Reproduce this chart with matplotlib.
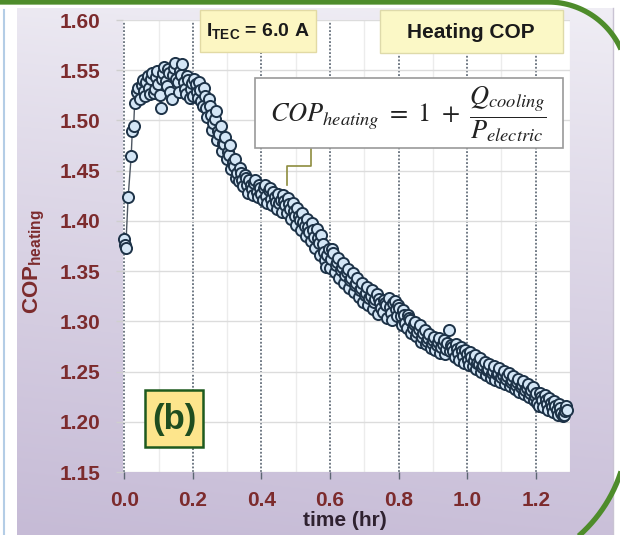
import numpy as np
import matplotlib
matplotlib.use("Agg")
import matplotlib.pyplot as plt
from matplotlib import font_manager as fm
from matplotlib.patches import Rectangle, PathPatch
from matplotlib.path import Path

# ---------------- data ----------------
time_hr = [
    0.000, 0.002, 0.004, 0.011, 0.020, 0.023, 0.027, 0.030, 0.036, 0.040, 0.045, 0.050,
    0.057, 0.064, 0.071, 0.078, 0.085, 0.092, 0.099, 0.106, 0.113, 0.120,
    0.127, 0.134, 0.141, 0.148, 0.155, 0.162, 0.169, 0.176, 0.183, 0.190,
    0.197, 0.204, 0.211, 0.218, 0.225, 0.232, 0.239, 0.246, 0.253, 0.260,
    0.267, 0.274, 0.281, 0.288, 0.295, 0.302, 0.309, 0.316, 0.323, 0.330,
    0.337, 0.344, 0.351, 0.358, 0.365, 0.372, 0.379, 0.386, 0.393, 0.400,
    0.407, 0.414, 0.421, 0.428, 0.435, 0.442, 0.449, 0.456, 0.463, 0.470,
    0.477, 0.484, 0.491, 0.498, 0.505, 0.512, 0.519, 0.526, 0.533, 0.540,
    0.547, 0.554, 0.561, 0.568, 0.575, 0.582, 0.589, 0.596, 0.603, 0.610,
    0.617, 0.624, 0.631, 0.638, 0.645, 0.652, 0.659, 0.666, 0.673, 0.680,
    0.687, 0.694, 0.701, 0.708, 0.715, 0.722, 0.729, 0.736, 0.743, 0.750,
    0.757, 0.764, 0.771, 0.778, 0.785, 0.792, 0.799, 0.806, 0.813, 0.820,
    0.827, 0.834, 0.841, 0.848, 0.855, 0.862, 0.869, 0.876, 0.883, 0.890,
    0.897, 0.904, 0.911, 0.918, 0.925, 0.932, 0.939, 0.946, 0.953, 0.960,
    0.967, 0.974, 0.981, 0.988, 0.995, 1.002, 1.009, 1.016, 1.023, 1.030,
    1.037, 1.044, 1.051, 1.058, 1.065, 1.072, 1.079, 1.086, 1.093, 1.100,
    1.107, 1.114, 1.121, 1.128, 1.135, 1.142, 1.149, 1.156, 1.163, 1.170,
    1.177, 1.184, 1.191, 1.198, 1.205, 1.212, 1.219, 1.226, 1.233, 1.240,
    1.247, 1.254, 1.261, 1.268, 1.275, 1.282, 1.289, 1.292,
    # interleaved samples
    0.0535, 0.0605, 0.0675, 0.0745, 0.0815, 0.0885, 0.0955, 0.1025, 0.1095, 0.1165,
    0.1235, 0.1305, 0.1375, 0.1445, 0.1515, 0.1585, 0.1655, 0.1725, 0.1795, 0.1865,
    0.1935, 0.2005, 0.2075, 0.2145, 0.2215, 0.2285, 0.2355, 0.2425, 0.2495, 0.2565,
    0.2635, 0.2705, 0.2775, 0.2845, 0.2915, 0.2985, 0.3055, 0.3125, 0.3195, 0.3265,
    0.3335, 0.3405, 0.3475, 0.3545, 0.3615, 0.3685, 0.3755, 0.3825, 0.3895, 0.3965,
    0.4035, 0.4105, 0.4175, 0.4245, 0.4315, 0.4385, 0.4455, 0.4525, 0.4595, 0.4665,
    0.4735, 0.4805, 0.4875, 0.4945, 0.5015, 0.5085, 0.5155, 0.5225, 0.5295, 0.5365,
    0.5435, 0.5505, 0.5575, 0.5645, 0.5715, 0.5785, 0.5855, 0.5925, 0.5995, 0.6065,
    0.6135, 0.6205, 0.6275, 0.6345, 0.6415, 0.6485, 0.6555, 0.6625, 0.6695, 0.6765,
    0.6835, 0.6905, 0.6975, 0.7045, 0.7115, 0.7185, 0.7255, 0.7325, 0.7395, 0.7465,
    0.7535, 0.7605, 0.7675, 0.7745, 0.7815, 0.7885, 0.7955, 0.8025, 0.8095, 0.8165,
    0.8235, 0.8305, 0.8375, 0.8445, 0.8515, 0.8585, 0.8655, 0.8725, 0.8795, 0.8865,
    0.8935, 0.9005, 0.9075, 0.9145, 0.9215, 0.9285, 0.9355, 0.9425, 0.9495, 0.9565,
    0.9635, 0.9705, 0.9775, 0.9845, 0.9915, 0.9985, 1.0055, 1.0125, 1.0195, 1.0265,
    1.0335, 1.0405, 1.0475, 1.0545, 1.0615, 1.0685, 1.0755, 1.0825, 1.0895, 1.0965,
    1.1035, 1.1105, 1.1175, 1.1245, 1.1315, 1.1385, 1.1455, 1.1525, 1.1595, 1.1665,
    1.1735, 1.1805, 1.1875, 1.1945, 1.2015, 1.2085, 1.2155, 1.2225, 1.2295, 1.2365,
    1.2435, 1.2505, 1.2575, 1.2645, 1.2715, 1.2785, 1.2855,
]
cop_heating = [
    1.382, 1.376, 1.373, 1.424, 1.465, 1.489, 1.494, 1.517, 1.528, 1.532, 1.521, 1.535,
    1.529, 1.538, 1.532, 1.541, 1.527, 1.543, 1.536, 1.512, 1.547, 1.539,
    1.551, 1.528, 1.545, 1.557, 1.538, 1.549, 1.556, 1.531, 1.544, 1.522,
    1.537, 1.541, 1.528, 1.538, 1.519, 1.532, 1.512, 1.521, 1.505, 1.497,
    1.509, 1.489, 1.494, 1.478, 1.484, 1.469, 1.476, 1.459, 1.462, 1.448,
    1.453, 1.441, 1.446, 1.436, 1.441, 1.432, 1.438, 1.429, 1.436, 1.427,
    1.433, 1.425, 1.431, 1.422, 1.429, 1.419, 1.427, 1.421, 1.426, 1.416,
    1.423, 1.412, 1.418, 1.405, 1.413, 1.401, 1.408, 1.395, 1.402, 1.389,
    1.398, 1.384, 1.392, 1.378, 1.386, 1.369, 1.354, 1.372, 1.362, 1.368,
    1.356, 1.363, 1.351, 1.358, 1.346, 1.352, 1.341, 1.348, 1.336, 1.343,
    1.331, 1.338, 1.326, 1.334, 1.323, 1.331, 1.319, 1.327, 1.322, 1.313,
    1.321, 1.316, 1.323, 1.308, 1.318, 1.312, 1.316, 1.305, 1.311, 1.298,
    1.306, 1.301, 1.293, 1.299, 1.289, 1.296, 1.284, 1.291, 1.280, 1.287,
    1.278, 1.284, 1.276, 1.283, 1.274, 1.281, 1.272, 1.291, 1.276, 1.270,
    1.277, 1.268, 1.274, 1.265, 1.271, 1.262, 1.269, 1.256, 1.266, 1.259,
    1.263, 1.255, 1.260, 1.252, 1.258, 1.249, 1.256, 1.248, 1.254, 1.245,
    1.251, 1.243, 1.249, 1.240, 1.246, 1.237, 1.243, 1.235, 1.241, 1.232,
    1.238, 1.229, 1.235, 1.226, 1.219, 1.229, 1.222, 1.227, 1.218, 1.224,
    1.215, 1.221, 1.212, 1.218, 1.209, 1.207, 1.216, 1.212,
    # interleaved samples
    1.540, 1.524, 1.544, 1.526, 1.547, 1.531, 1.549, 1.525, 1.541, 1.553,
    1.534, 1.547, 1.521, 1.552, 1.541, 1.528, 1.545, 1.538, 1.526, 1.540,
    1.531, 1.524, 1.536, 1.522, 1.530, 1.514, 1.524, 1.503, 1.514, 1.490,
    1.501, 1.481, 1.487, 1.470, 1.477, 1.462, 1.466, 1.452, 1.455, 1.443,
    1.440, 1.448, 1.435, 1.443, 1.428, 1.436, 1.426, 1.441, 1.424, 1.433,
    1.421, 1.436, 1.418, 1.433, 1.416, 1.424, 1.412, 1.418, 1.409, 1.420,
    1.408, 1.417, 1.402, 1.410, 1.396, 1.405, 1.391, 1.399, 1.385, 1.394,
    1.380, 1.391, 1.373, 1.383, 1.366, 1.377, 1.361, 1.366, 1.353, 1.372,
    1.349, 1.359, 1.343, 1.354, 1.338, 1.349, 1.333, 1.343, 1.329, 1.338,
    1.324, 1.333, 1.319, 1.328, 1.316, 1.325, 1.312, 1.322, 1.307, 1.318,
    1.309, 1.318, 1.303, 1.314, 1.301, 1.320, 1.305, 1.313, 1.296, 1.306,
    1.293, 1.303, 1.288, 1.297, 1.285, 1.292, 1.279, 1.288, 1.277, 1.283,
    1.273, 1.281, 1.271, 1.279, 1.268, 1.277, 1.267, 1.278, 1.270, 1.274,
    1.264, 1.272, 1.262, 1.270, 1.259, 1.267, 1.257, 1.264, 1.262, 1.253,
    1.258, 1.250, 1.257, 1.247, 1.253, 1.244, 1.251, 1.242, 1.249, 1.240,
    1.247, 1.238, 1.246, 1.236, 1.242, 1.233, 1.240, 1.230, 1.237, 1.228,
    1.234, 1.225, 1.232, 1.222, 1.229, 1.216, 1.225, 1.215, 1.222, 1.212,
    1.219, 1.210, 1.216, 1.207, 1.214, 1.206, 1.211,
]
x_ticks = [0.0, 0.2, 0.4, 0.6, 0.8, 1.0, 1.2]
x_minor = [0.1, 0.3, 0.5, 0.7, 0.9, 1.1, 1.3]
y_ticks = [1.15, 1.20, 1.25, 1.30, 1.35, 1.40, 1.45, 1.50, 1.55, 1.60]

n = min(len(time_hr), len(cop_heating))
order = np.argsort(np.array(time_hr[:n]), kind="stable")
t_sorted = np.array(time_hr[:n])[order]
c_sorted = np.array(cop_heating[:n])[order]

# ---------------- fonts ----------------
names = {f.name for f in fm.fontManager.ttflist}
NARROW = "Liberation Sans Narrow" if "Liberation Sans Narrow" in names else "Liberation Sans"
WIDE = "Liberation Sans" if "Liberation Sans" in names else "DejaVu Sans"
plt.rcParams["font.family"] = [NARROW, "DejaVu Sans"]
plt.rcParams["mathtext.fontset"] = "custom"
plt.rcParams["mathtext.rm"] = NARROW
plt.rcParams["mathtext.it"] = NARROW + ":italic"
plt.rcParams["mathtext.bf"] = NARROW + ":bold"

W, H = 620, 535
fig = plt.figure(figsize=(W / 100, H / 100), dpi=100)
fig.patch.set_facecolor("white")

def fx(x):
    return x / W

def fy(y):
    return 1 - y / H

# ---------------- background panel ----------------
bg = fig.add_axes([0, 0, 1, 1], zorder=-10)
bg.set_xlim(0, W)
bg.set_ylim(H, 0)
bg.axis("off")
gy = np.linspace(0, 1, 200)[:, None]
gx = np.linspace(0, 1, 200)[None, :]
top = np.array([240, 238, 245]) / 255
bot = np.array([198, 187, 214]) / 255
v = np.clip(0.05 + 0.9 * gy ** 0.9 + 0.10 * (1 - gx) - 0.05, 0, 1)
img = top[None, None, :] * (1 - v[..., None]) + bot[None, None, :] * v[..., None]
bg.imshow(img, extent=(17, 613, 535, 8), aspect="auto", zorder=0, interpolation="bilinear")
bg.plot([4, 4], [10, 535], color="#b4cde6", lw=1.5, zorder=1)
bg.plot([613, 613], [8, 535], color="#c9c3d3", lw=1, zorder=1)

def arc(cx, cy, r, a0, a1, npts=40):
    a = np.radians(np.linspace(a0, a1, npts))
    return list(zip(cx + r * np.cos(a), cy + r * np.sin(a)))

pts = [(-10, 2), (548, 2)] + arc(548, 82, 80, -90, 0) + [(628, 427)] + arc(483, 427, 145, 0, 90)
path = Path(pts, [Path.MOVETO] + [Path.LINETO] * (len(pts) - 1))
bg.add_patch(PathPatch(path, fill=False, edgecolor="#4e8c2b", lw=3.8, zorder=5, capstyle="butt"))

# ---------------- main axes ----------------
ax = fig.add_axes([fx(123), fy(472), fx(570) - fx(123), fy(20) - fy(472)], zorder=1)
ax.set_facecolor("white")
ax.set_xlim(-0.004, 1.30)
ax.set_ylim(1.15, 1.60)
for s in ax.spines.values():
    s.set_visible(False)

ax.set_xticks(x_ticks)
ax.set_xticks(x_minor, minor=True)
ax.set_yticks(y_ticks)
ax.set_xticklabels([f"{t:.1f}" for t in x_ticks])
ax.set_yticklabels([f"{t:.2f}" for t in y_ticks])
tick_color = "#7c2b2d"
ax.tick_params(axis="y", which="major", length=5, color="#cfcfcf", width=1, pad=11,
               labelsize=15, labelcolor=tick_color)
ax.tick_params(axis="x", which="major", length=5, color="#5c6672", width=1, pad=9,
               labelsize=15, labelcolor=tick_color)
ax.tick_params(axis="x", which="minor", length=0)
for lab in ax.get_xticklabels() + ax.get_yticklabels():
    lab.set_fontweight("bold")

ax.grid(axis="y", which="major", color="#dcdcdc", lw=1, ls="-", zorder=0)
ax.grid(axis="x", which="minor", color="#ececec", lw=1, ls="-", zorder=0)
ax.grid(axis="x", which="major", color="#4a5664", lw=1.1, ls=(0, (1.2, 1.2)), zorder=0)
ax.set_axisbelow(True)

ax.plot(t_sorted, c_sorted, "-o", color="#4d5662", lw=1.0,
        ms=8, mfc="#d4e6f6", mec="#1d3247", mew=1.4, zorder=3, clip_on=False)

# connector from formula box
con_x = [0.544, 0.544, 0.474, 0.474]
con_y = [1.4726, 1.4546, 1.4546, 1.4357]
ax.plot(con_x, con_y, color="#8d8c3e", lw=1.2, zorder=4, clip_on=False)

# axis labels
fig.text(fx(34), fy(262), r"COP$_{\mathbf{heating}}$", rotation=90, fontsize=16,
         fontweight="bold", color=tick_color, ha="center", va="center")
fig.text(fx(345), fy(521), "time (hr)", fontsize=15, fontweight="bold",
         color="#2f2230", ha="center", va="center")

# ---------------- overlay boxes ----------------
ov = fig.add_axes([0, 0, 1, 1], zorder=10)
ov.patch.set_alpha(0)
ov.set_xlim(0, W)
ov.set_ylim(H, 0)
ov.axis("off")

ov.add_patch(Rectangle((200, 10), 116, 42, fc="#fcf6c2", ec="#e2daa4", lw=1))
ov.text(258, 31, r"I$_{\mathbf{TEC}}$ = 6.0 A", fontsize=14, fontweight="bold",
        color="#1a1a1a", ha="center", va="center")

ov.add_patch(Rectangle((380, 10), 183, 43, fc="#fbf8c6", ec="#dedaaa", lw=1))
ov.text(471, 32, "Heating COP", fontsize=15, fontweight="bold", family=WIDE,
        color="#1a1a1a", ha="center", va="center")

ov.add_patch(Rectangle((255, 78), 308, 70, fc="white", ec="#9a9a9a", lw=1.2))
t = ov.text(408, 114, r"$COP_{heating}\ =\ 1\ +\ \dfrac{Q_{cooling}}{P_{electric}}$",
            fontsize=19, color="#222222", ha="center", va="center")
t.set_math_fontfamily("stix")

ov.add_patch(Rectangle((145, 390), 58, 57, fc="#fde58c", ec="#1e5a1e", lw=1.8))
ov.text(174, 419, "(b)", fontsize=25, fontweight="bold", family=WIDE,
        color="#1f4d1f", ha="center", va="center")

fig.savefig("out.png", dpi=100, facecolor=fig.get_facecolor())
